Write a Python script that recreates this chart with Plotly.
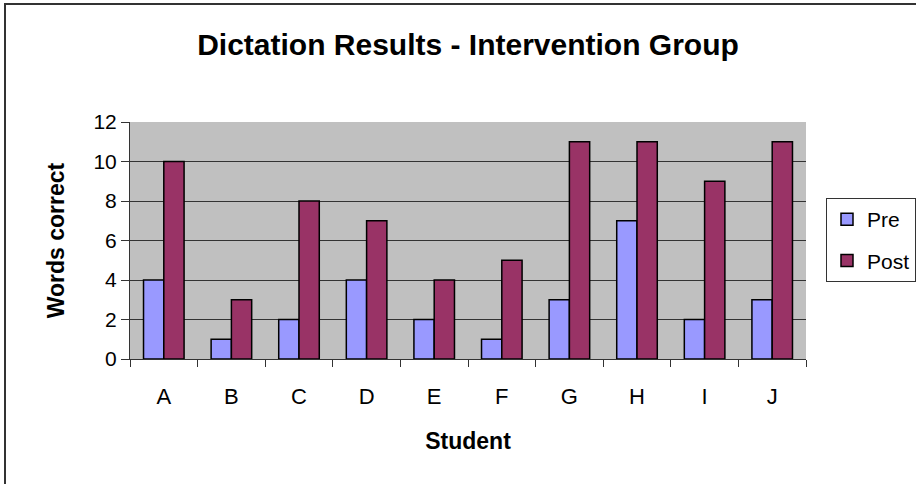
import plotly.graph_objects as go

students = ["A", "B", "C", "D", "E", "F", "G", "H", "I", "J"]
pre_scores = [4, 1, 2, 4, 2, 1, 3, 7, 2, 3]
post_scores = [10, 3, 8, 7, 4, 5, 11, 11, 9, 11]
y_ticks = [0, 2, 4, 6, 8, 10, 12]

W, H = 916, 484
ML, MR, MT, MB = 130, 110, 122, 125
PW, PH = W - ML - MR, H - MT - MB


def px_x(x):
    return (x - ML) / PW


def px_y(y):
    return (H - MB - y) / PH


font = "Liberation Sans, Arial, sans-serif"

fig = go.Figure()
fig.add_trace(go.Bar(
    x=students, y=pre_scores, name="Pre", legendgroup="pre",
    marker=dict(color="#9999FF", line=dict(color="black", width=1.5)),
))
fig.add_trace(go.Bar(
    x=students, y=post_scores, name="Post", legendgroup="post",
    marker=dict(color="#993366", line=dict(color="black", width=1.5)),
))

fig.update_layout(
    width=W, height=H,
    margin=dict(l=ML, r=MR, t=MT, b=MB, autoexpand=False),
    paper_bgcolor="white",
    plot_bgcolor="#C0C0C0",
    barmode="group",
    bargap=0.4,
    bargroupgap=0.0,
    font=dict(family=font, size=21, color="black"),
    title=dict(
        text="<b>Dictation Results - Intervention Group</b>",
        x=0.5, xref="paper", xanchor="center",
        y=1 - 44 / H, yanchor="middle",
        font=dict(family=font, size=30, color="black"),
    ),
    xaxis=dict(
        type="category",
        tickson="boundaries",
        ticks="outside", ticklen=7, tickcolor="#333333", tickwidth=1,
        showline=True, linecolor="#333333", linewidth=1,
        showgrid=False,
        tickfont=dict(size=22),
        ticklabelstandoff=18,
        title=dict(text="<b>Student</b>", font=dict(size=23), standoff=24),
    ),
    yaxis=dict(
        range=[0, 12],
        tickvals=y_ticks,
        ticks="outside", ticklen=8, tickcolor="#333333", tickwidth=1,
        showline=True, linecolor="#333333", linewidth=1,
        showgrid=True, gridcolor="#333333", gridwidth=1,
        zeroline=False,
        tickfont=dict(size=21),
        title=dict(text="<b>Words correct</b>", font=dict(size=23), standoff=22),
    ),
    legend=dict(
        x=px_x(826), y=px_y(198), xanchor="left", yanchor="top",
        bordercolor="#333333", borderwidth=1, bgcolor="white",
        font=dict(size=21),
        tracegroupgap=11,
    ),
    shapes=[dict(
        type="rect", xref="paper", yref="paper",
        x0=px_x(5), x1=px_x(925), y0=px_y(495), y1=px_y(4),
        line=dict(color="#333333", width=2), fillcolor="rgba(0,0,0,0)",
        layer="below",
    )],
)

fig.write_html("out.html")
